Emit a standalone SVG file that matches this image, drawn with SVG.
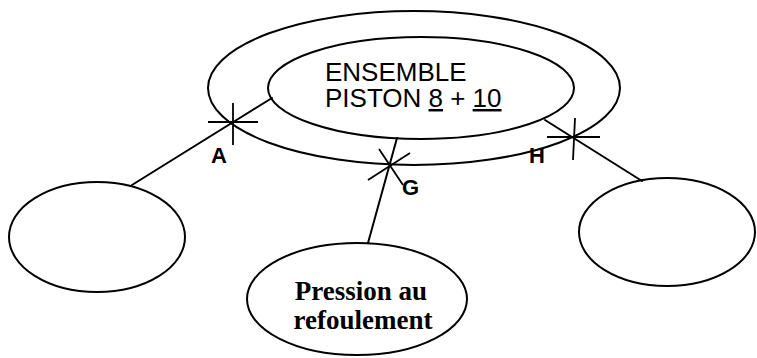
<svg xmlns="http://www.w3.org/2000/svg" width="757" height="358" viewBox="0 0 757 358">
  <style>
    .shape { fill: none; stroke: #000; stroke-width: 2; }
    .line { fill: none; stroke: #000; stroke-width: 2; stroke-linecap: round; }
    .tick { fill: none; stroke: #000; stroke-width: 1.8; }
    .sans { font-family: "Liberation Sans", Arial, sans-serif; font-size: 25px; fill: #000; }
    .serif { font-family: "Liberation Serif", "Times New Roman", serif; font-weight: bold; font-size: 27px; fill: #000; }
    .label { font-family: "Liberation Sans", Arial, sans-serif; font-weight: bold; font-size: 22px; fill: #000; }
  </style>
  <rect width="757" height="358" fill="#fff"/>

  <!-- connectors with their contact marks -->
  <g id="connectors">
    <line class="line" x1="272" y1="98" x2="132" y2="185"/>
    <line class="line" x1="397" y1="138" x2="368" y2="243"/>
    <line class="line" x1="545" y1="120" x2="642" y2="181"/>
    <!-- contact A -->
    <line class="tick" x1="233" y1="103" x2="233" y2="145"/>
    <line class="tick" x1="208" y1="122" x2="258" y2="122"/>
    <!-- contact G -->
    <line class="tick" x1="379" y1="149" x2="403" y2="185"/>
    <line class="tick" x1="410" y1="153" x2="368" y2="180"/>
    <!-- contact H -->
    <line class="tick" x1="575" y1="118" x2="573" y2="160"/>
    <line class="tick" x1="547" y1="137" x2="600" y2="137"/>
    <text class="label" x="211" y="163">A</text>
    <text class="label" x="402" y="195">G</text>
    <text class="label" x="529" y="163">H</text>
  </g>

  <g id="outer">
    <ellipse class="shape" cx="414" cy="88" rx="206" ry="77"/>
  </g>

  <g id="piston">
    <ellipse class="shape" cx="421" cy="88" rx="153" ry="51"/>
    <g transform="translate(325,0) scale(1.04,1)">
      <text class="sans" x="0" y="81.5">ENSEMBLE</text>
      <text class="sans" x="0" y="107">PISTON <tspan text-decoration="underline">8</tspan> + <tspan text-decoration="underline">10</tspan></text>
    </g>
  </g>

  <g id="left">
    <ellipse class="shape" cx="97" cy="237" rx="88" ry="55"/>
  </g>

  <g id="pression">
    <ellipse class="shape" cx="357" cy="299" rx="110" ry="56"/>
    <text class="serif" x="361" y="300" text-anchor="middle">Pression au</text>
    <text class="serif" x="363" y="329" text-anchor="middle">refoulement</text>
  </g>

  <g id="right">
    <ellipse class="shape" cx="667" cy="232" rx="88" ry="54"/>
  </g>
</svg>
